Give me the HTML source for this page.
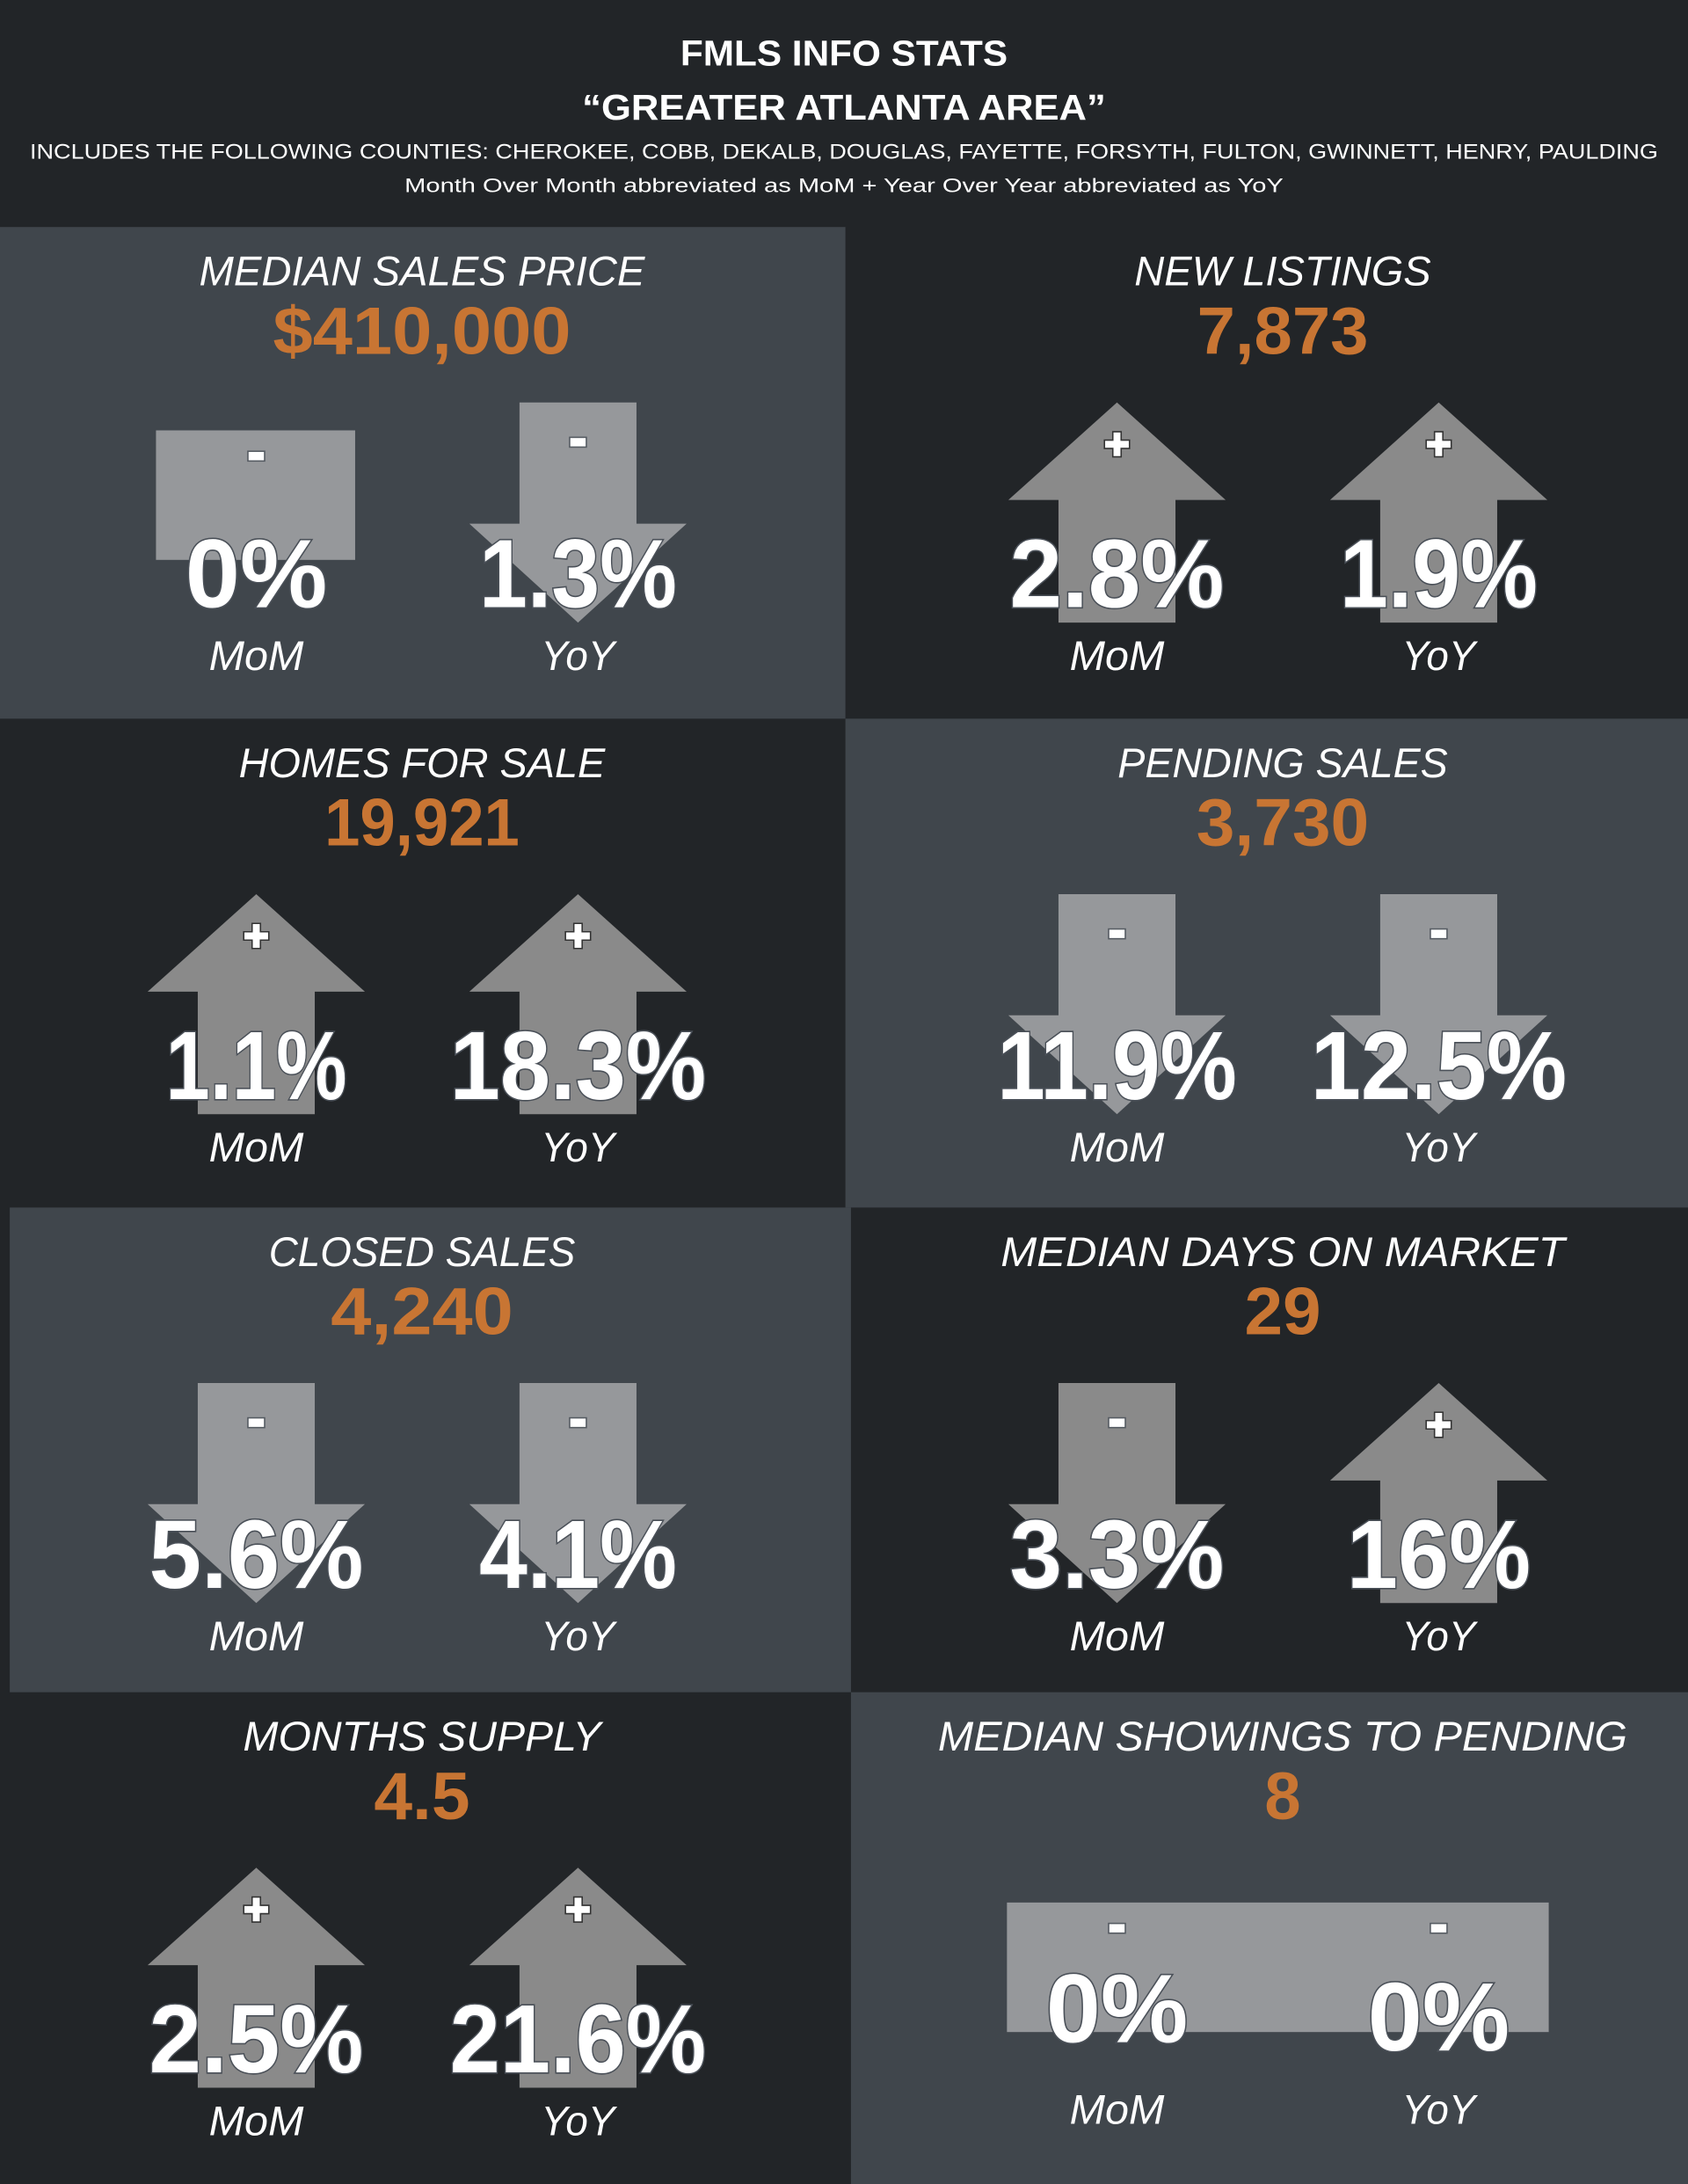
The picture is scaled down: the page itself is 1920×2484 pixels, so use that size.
<!DOCTYPE html>
<html><head><meta charset="utf-8"><style>
html,body{margin:0;padding:0;background:#222528;}
svg{display:block;}
</style></head><body>
<svg id="chart" width="1920" height="2484" viewBox="0 0 1212 1568.1" preserveAspectRatio="none" xmlns="http://www.w3.org/2000/svg">
<rect x="0" y="0" width="1212" height="1568.1" fill="#222528"/>
<g fill="#ffffff" font-family="Liberation Sans, sans-serif" text-anchor="middle">
<text x="606" y="47" font-size="26" font-weight="bold" textLength="235" lengthAdjust="spacingAndGlyphs">FMLS INFO STATS</text>
<text x="606" y="86" font-size="26" font-weight="bold" textLength="376" lengthAdjust="spacingAndGlyphs">“GREATER ATLANTA AREA”</text>
<text x="606" y="114" font-size="15" textLength="1169" lengthAdjust="spacingAndGlyphs">INCLUDES THE FOLLOWING COUNTIES: CHEROKEE, COBB, DEKALB, DOUGLAS, FAYETTE, FORSYTH, FULTON, GWINNETT, HENRY, PAULDING</text>
<text x="606" y="138" font-size="14" textLength="631" lengthAdjust="spacingAndGlyphs">Month Over Month abbreviated as MoM + Year Over Year abbreviated as YoY</text>
</g>
<g id="panels"></g>
</svg>
<script>
const titles = ["MEDIAN SALES PRICE","NEW LISTINGS","HOMES FOR SALE","PENDING SALES","CLOSED SALES","MEDIAN DAYS ON MARKET","MONTHS SUPPLY","MEDIAN SHOWINGS TO PENDING"];
const values = ["$410,000","7,873","19,921","3,730","4,240","29","4.5","8"];
const momValues = [0, 2.8, 1.1, -11.9, -5.6, -3.3, 2.5, 0];
const yoyValues = [-1.3, 1.9, 18.3, -12.5, -4.1, 16, 21.6, 0];

const NS = "http://www.w3.org/2000/svg";
const root = document.getElementById("panels");
const rowTops = [163, 516, 867, 1215, 1568.1];
const lightPanels = [[0,163,607,353],[607,516,605,351],[7,867,604,348],[611,1215,601,353.1]];
const titleW = [320,213,263,237,220,405,257,495];
const valueW = [214,123,140,124,131,55,69,26];

function el(tag, attrs, parent){ const e=document.createElementNS(NS,tag); for(const k in attrs) e.setAttribute(k,attrs[k]); parent.appendChild(e); return e; }
function fmt(v){ return Math.abs(v) + "%"; }
function pctWidth(s){ let w=0; for(const c of s){ w += c==='%'?60 : c==='.'?10 : c==='1'?30 : 42; } return w; }

lightPanels.forEach((p,i)=>{
  const r = el("rect",{x:p[0],y:p[1],width:p[2],height:p[3],fill:"#40464c"},root);
  
  
});

titles.forEach((t,i)=>{
  const row = Math.floor(i/2), col = i%2;
  const top = rowTops[row];
  const cx = col===0 ? 303 : 921;
  const light = (row%2===0) === (col===0);
  const g = el("g",{},root);
  
  
  const tt = el("text",{x:cx,y:top+42,"font-family":"Liberation Sans, sans-serif","font-size":30,"font-style":"italic",fill:"#ffffff","text-anchor":"middle",textLength:titleW[i],lengthAdjust:"spacingAndGlyphs"},g);
  tt.textContent = t;
  
  
  const tv = el("text",{x:cx,y:top+91,"font-family":"Liberation Sans, sans-serif","font-size":48,"font-weight":"bold",fill:"#c87533","text-anchor":"middle",textLength:valueW[i],lengthAdjust:"spacingAndGlyphs"},g);
  tv.textContent = values[i];
  
  

  const aTop = top + 126;
  const centers = col===0 ? [184,415] : [802,1033];
  const vals = [momValues[i], yoyValues[i]];
  const labels = ["MoM","YoY"];
  const downFill = light ? "#96989b" : "#8a8a8a";
  const flat = vals[0]===0 && vals[1]===0;
  if (flat) {
    const b = el("rect",{x:723,y:aTop+25,width:389,height:93,fill:"#96989b"},g);
    
    
  }
  vals.forEach((v,k)=>{
    const x = centers[k];
    let sign, signY;
    if (flat) { sign="-"; signY=aTop+43; }
    else if (v===0) {
      const b = el("rect",{x:x-72,y:aTop+20,width:143,height:93,fill:"#96989b"},g);
      
      
      sign="-"; signY=aTop+38;
    } else if (v>0) {
      const a = el("polygon",{points:`${x},${aTop} ${x+78},${aTop+70} ${x+42},${aTop+70} ${x+42},${aTop+158} ${x-42},${aTop+158} ${x-42},${aTop+70} ${x-78},${aTop+70}`,fill:"#8a8a8a"},g);
      
      
      sign="+"; signY=aTop+30;
    } else {
      const a = el("polygon",{points:`${x-42},${aTop} ${x+42},${aTop} ${x+42},${aTop+87} ${x+78},${aTop+87} ${x},${aTop+158} ${x-78},${aTop+87} ${x-42},${aTop+87}`,fill:downFill},g);
      
      
      sign="-"; signY=aTop+28;
    }
    if (sign==="+") {
      const s = el("path",{d:`M${x-3},${signY-9}h6v6h6v6h-6v6h-6v-6h-6v-6h6z`,fill:"#ffffff",stroke:"#333","stroke-width":1},g);
      
      
    } else {
      const s = el("rect",{x:x-6,y:signY-3,width:12,height:7,fill:"#ffffff",stroke:"#555b62","stroke-width":1},g);
      
      
    }
    const str = fmt(v);
    const base = flat ? aTop+125+(k*6) : aTop+147;
    const pt = el("text",{x:x,y:base,"font-family":"Liberation Sans, sans-serif","font-size":70,"font-weight":"bold",fill:"#ffffff",stroke:"#4a5058","stroke-width":2,"paint-order":"stroke","text-anchor":"middle",textLength:pctWidth(str),lengthAdjust:"spacingAndGlyphs"},g);
    pt.textContent = str;
    
    
    const lb = el("text",{x:x,y:flat?aTop+184:aTop+192,"font-family":"Liberation Sans, sans-serif","font-size":30,"font-style":"italic",fill:"#ffffff","text-anchor":"middle",textLength:k===0?68:53,lengthAdjust:"spacingAndGlyphs"},g);
    lb.textContent = labels[k];
    
    
  });
});
</script>
</body></html>
